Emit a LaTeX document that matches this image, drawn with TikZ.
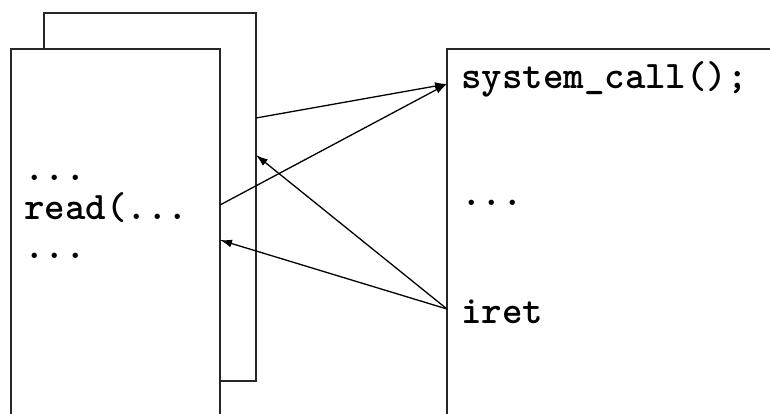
\documentclass[tikz,border=0pt]{standalone}
\usepackage{fontspec}
\usetikzlibrary{arrows.meta}
\begin{document}
\begin{tikzpicture}[x=1pt,y=-1pt,
  box/.style={draw=black!85,line width=1.4pt,fill=white,minimum width=#1,inner sep=0pt,outer sep=0pt,anchor=north west},
  code/.style={font=\ttfamily\bfseries\fontsize{39}{44}\selectfont,inner sep=0pt,anchor=base west},
  arr/.style={line width=1.3pt,-{Latex[length=12pt,width=8pt]}}]
\useasboundingbox (0,0) rectangle (770,413);
\clip (0,0) rectangle (770,413);
\node[box=212pt,minimum height=368pt] (back) at (44,13) {};
\node[box=209pt,minimum height=420pt] (front) at (11,49) {};
\node[box=360pt,minimum height=420pt] (sys) at (447,49) {};
\node[code] (d1) at (24,180) {...};
\node[code] (rd) at (24,219) {read(...};
\node[code] (d2) at (24,258) {...};
\node[code] (sc) at (461,88) {system\_call();};
\node[code] (d3) at (461,205) {...};
\node[code] (ir) at (461,323) {iret};
\coordinate (bo) at (256,118);
\coordinate (bi) at (256,155);
\coordinate (fo) at (220,205);
\coordinate (fi) at (220,240);
\coordinate (si) at (447,84);
\coordinate (so) at (447,309);
\draw[arr] (bo) -- (si);
\draw[arr] (fo) -- (si);
\draw[arr] (so) -- (bi);
\draw[arr] (so) -- (fi);
\end{tikzpicture}
\end{document}
